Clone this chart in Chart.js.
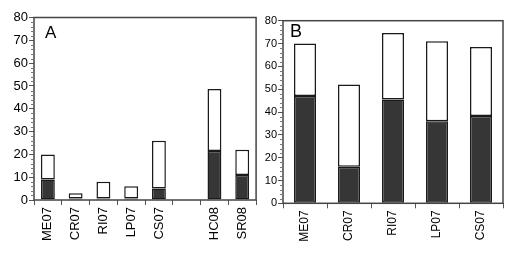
<!DOCTYPE html>
<html>
<head>
<meta charset="utf-8">
<script src="https://cdn.jsdelivr.net/npm/chart.js@4/dist/chart.umd.min.js"></script>
<style>
  html, body { margin: 0; padding: 0; background: #fff; }
  #wrap { position: relative; width: 520px; height: 255px; overflow: hidden; }
  #chartA { position: absolute; left: 0; top: 0; }
  #chartB { position: absolute; left: 260px; top: 0; }
</style>
</head>
<body>
<div id="wrap">
  <canvas id="chartA" width="260" height="255"></canvas>
  <canvas id="chartB" width="260" height="255"></canvas>
</div>
<script>
// panel A (empty slot between CS07 and HC08)
const sitesA = ['ME07', 'CR07', 'RI07', 'LP07', 'CS07', '', 'HC08', 'SR08'];
const darkA  = [9, 0.7, 0.7, 0.7, 5, null, 21.5, 11];
const totalA = [20, 3, 8, 6, 26, null, 48.7, 22];

// panel B
const sitesB = ['ME07', 'CR07', 'RI07', 'LP07', 'CS07'];
const darkB  = [47, 16, 45.5, 36, 38.3];
const totalB = [70, 52, 74.6, 71, 68.5];

const yTicks = [0, 10, 20, 30, 40, 50, 60, 70, 80];

const DARK = '#363636';
const EDGE = '#1a1a1a';
const AXIS = '#444';

function upper(dark, total) {
    return total.map((t, i) => t == null ? null : +(t - dark[i]).toFixed(2));
}

// frame, minor ticks and panel letter
const framePlugin = {
    id: 'frame',
    afterDraw(chart, args, opts) {
        const ctx = chart.ctx;
        const a = chart.chartArea;
        const y = chart.scales.y;
        ctx.save();
        ctx.strokeStyle = AXIS;
        ctx.lineWidth = 1.5;
        ctx.strokeRect(a.left, a.top, a.right - a.left, a.bottom - a.top);
        ctx.lineWidth = 1;
        ctx.strokeStyle = '#777';
        for (let v = 0; v <= 80; v += 2) {
            if (v % 10 === 0) continue;
            const py = Math.round(y.getPixelForValue(v)) + 0.5;
            ctx.beginPath();
            ctx.moveTo(a.left - 3, py);
            ctx.lineTo(a.left, py);
            ctx.stroke();
        }
        ctx.fillStyle = '#000';
        ctx.font = opts.font;
        ctx.textBaseline = 'top';
        ctx.fillText(opts.letter, a.left + opts.dx, a.top + opts.dy);
        ctx.restore();
    }
};

function makeChart(id, labels, dark, total, cfg) {
    const barStyle = {
        borderColor: EDGE,
        borderWidth: 1.5,
        borderSkipped: false,
        barPercentage: 0.5,
        categoryPercentage: 1
    };
    return new Chart(document.getElementById(id), {
        type: 'bar',
        data: {
            labels: labels,
            datasets: [
                Object.assign({ label: 'dark', data: dark, backgroundColor: DARK }, barStyle),
                Object.assign({ label: 'open', data: upper(dark, total), backgroundColor: '#fff' }, barStyle)
            ]
        },
        options: {
            responsive: false,
            animation: false,
            devicePixelRatio: 1,
            layout: { padding: cfg.padding },
            plugins: {
                legend: { display: false },
                tooltip: { enabled: false },
                frame: { letter: cfg.letter, font: cfg.letterFont, dx: cfg.letterDx, dy: cfg.letterDy }
            },
            scales: {
                x: {
                    stacked: true,
                    offset: true,
                    grid: { display: true, offset: true, drawOnChartArea: false, drawTicks: true, tickLength: 5, color: '#555' },
                    border: { display: false },
                    ticks: {
                        color: '#000',
                        minRotation: 90,
                        maxRotation: 90,
                        padding: 2,
                        autoSkip: false,
                        font: { family: cfg.xFont, size: cfg.xSize }
                    },
                    afterFit: s => { s.height = cfg.xHeight; }
                },
                y: {
                    stacked: true,
                    min: 0,
                    max: 80,
                    afterBuildTicks: s => { s.ticks = yTicks.map(v => ({ value: v })); },
                    grid: { display: true, drawOnChartArea: false, drawTicks: true, tickLength: 5, color: '#555' },
                    border: { display: false },
                    ticks: {
                        color: '#000',
                        padding: 1,
                        font: { family: '"Liberation Sans", Arial, sans-serif', size: cfg.ySize }
                    },
                    afterFit: s => { s.width = cfg.yWidth; }
                }
            }
        },
        plugins: [framePlugin]
    });
}

makeChart('chartA', sitesA, darkA, totalA, {
    padding: { left: 0, right: 3, top: 17.5, bottom: 0 },
    yWidth: 34, xHeight: 55, ySize: 13, xSize: 13,
    xFont: '"Liberation Sans Narrow", "Liberation Sans", Arial, sans-serif',
    letter: 'A', letterFont: '17px "Liberation Sans", Arial, sans-serif', letterDx: 11, letterDy: 7
});

makeChart('chartB', sitesB, darkB, totalB, {
    padding: { left: 0, right: 17, top: 20.7, bottom: 0 },
    yWidth: 23, xHeight: 51.7, ySize: 11, xSize: 12,
    xFont: '"Liberation Sans Narrow", "Liberation Sans", Arial, sans-serif',
    letter: 'B', letterFont: '18px "Liberation Sans", Arial, sans-serif', letterDx: 7, letterDy: 2
});
</script>
</body>
</html>
